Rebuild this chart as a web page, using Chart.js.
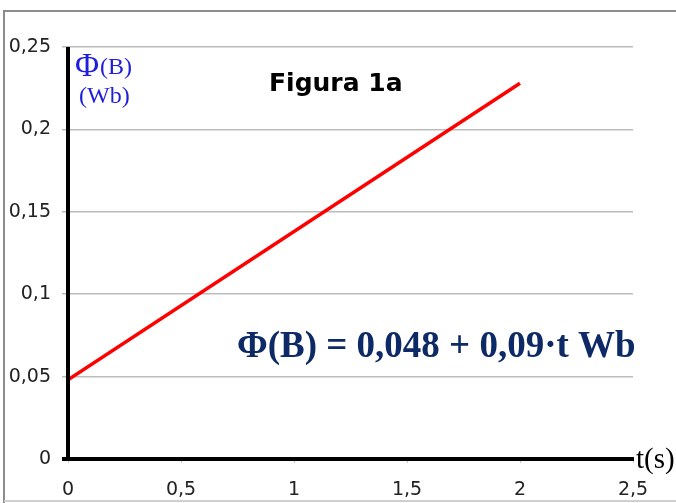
<!DOCTYPE html>
<html>
<head>
<meta charset="utf-8">
<script src="https://cdn.jsdelivr.net/npm/chart.js@4/dist/chart.umd.min.js"></script>
<style>
html,body{margin:0;padding:0;background:#fff;}
#wrap{width:676px;height:503px;position:relative;}
</style>
</head>
<body>
<div id="wrap"><canvas id="c" width="676" height="503"></canvas></div>
<script>
const tValues = [0, 2];
const phiValues = [0.048, 0.228];
const xTicks = [0, 0.5, 1, 1.5, 2, 2.5];
const yTicks = [0, 0.05, 0.1, 0.15, 0.2, 0.25];
const fmt = v => String(Math.round(v*100)/100).replace('.', ',');

const deco = {
  id: 'deco',
  beforeDraw(chart) {
    const ctx = chart.ctx;
    ctx.save();
    ctx.fillStyle = '#fff';
    ctx.fillRect(0,0,chart.width,chart.height);
    ctx.restore();
  },
  afterDraw(chart) {
    const ctx = chart.ctx;
    const xs = chart.scales.x, ys = chart.scales.y;
    const x0 = xs.getPixelForValue(0), y0 = ys.getPixelForValue(0);
    ctx.save();
    // outer frame
    ctx.strokeStyle = '#8c8c8c'; ctx.lineWidth = 2;
    ctx.beginPath(); ctx.moveTo(4, 503); ctx.lineTo(4, 11); ctx.lineTo(676, 11); ctx.stroke();
    ctx.strokeStyle = '#d0d0d0'; ctx.lineWidth = 2;
    ctx.beginPath(); ctx.moveTo(4, 501); ctx.lineTo(676, 501); ctx.stroke();
    // thick axes
    ctx.strokeStyle = '#000'; ctx.lineWidth = 4; ctx.lineCap = 'butt';
    ctx.beginPath(); ctx.moveTo(x0, ys.getPixelForValue(0.25)); ctx.lineTo(x0, y0+2); ctx.stroke();
    ctx.beginPath(); ctx.moveTo(x0-6, y0); ctx.lineTo(xs.getPixelForValue(2.5)+1, y0); ctx.stroke();
    // axis labels
    ctx.fillStyle = '#1e1edc';
    ctx.textBaseline = 'alphabetic'; ctx.textAlign = 'left';
    ctx.font = '33px "Liberation Serif", serif';
    ctx.fillText('Φ', 75, 76);
    ctx.font = '24px "Liberation Serif", serif';
    ctx.fillText('(B)', 100, 74);
    ctx.fillText('(Wb)', 79, 103);
    ctx.fillStyle = '#000';
    ctx.font = '29px "Liberation Serif", serif';
    ctx.fillText('t(s)', xs.getPixelForValue(2.5)+3, y0+9);
    // title
    ctx.font = 'bold 25px "DejaVu Sans", sans-serif';
    ctx.fillText('Figura 1a', 269, 91);
    // equation
    ctx.fillStyle = '#0d2a66';
    ctx.font = 'bold 37px "Liberation Serif", serif';
    ctx.fillText('Φ(B) = 0,048 + 0,09·t Wb', 237, 357);
    ctx.restore();
  }
};

new Chart(document.getElementById('c'), {
  type: 'scatter',
  data: {
    datasets: [{
      data: tValues.map((t,i)=>({x:t, y:phiValues[i]})),
      showLine: true,
      borderColor: '#ff0000',
      borderWidth: 3.5,
      pointRadius: 0,
      fill: false
    }]
  },
  options: {
    responsive: false,
    animation: false,
    layout: { padding: { top: 47, right: 43, left: 0, bottom: 0 } },
    plugins: { legend: { display: false }, tooltip: { enabled: false } },
    scales: {
      x: {
        type: 'linear', min: 0, max: 2.5,
        afterBuildTicks: s => { s.ticks = xTicks.map(v=>({value:v})); },
        afterFit: s => { s.height = 44; },
        grid: { drawOnChartArea: false, tickLength: 4, color: '#c8c8c8' },
        border: { display: false },
        ticks: { callback: v => fmt(v), color: '#222', font: { family: '"DejaVu Sans", sans-serif', size: 19 }, padding: 16, maxRotation: 0 }
      },
      y: {
        type: 'linear', min: 0, max: 0.25,
        afterBuildTicks: s => { s.ticks = yTicks.map(v=>({value:v})); },
        afterFit: s => { s.width = 68; },
        grid: { color: '#bcbcbc', lineWidth: 1.5, tickLength: 6 },
        border: { display: false },
        ticks: { callback: v => fmt(v), color: '#222', font: { family: '"DejaVu Sans", sans-serif', size: 19 }, padding: 11 }
      }
    }
  },
  plugins: [deco]
});
</script>
</body>
</html>
